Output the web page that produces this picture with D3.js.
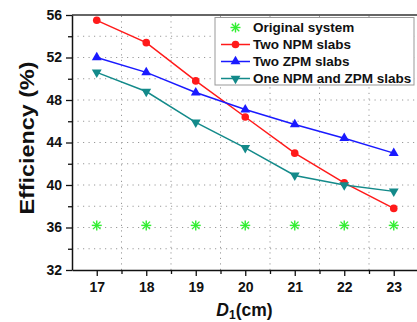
<!DOCTYPE html>
<html><head><meta charset="utf-8">
<script src="https://cdn.jsdelivr.net/npm/d3@7"></script>
<style>body{margin:0;background:#fff;overflow:hidden}svg{display:block}text{font-family:Arial,"Liberation Sans",sans-serif;font-weight:bold}</style>
</head><body>
<script>
const xValues = [17, 18, 19, 20, 21, 22, 23];
const original = [36.2, 36.2, 36.2, 36.2, 36.2, 36.2, 36.2];
const twoNPM = [55.5, 53.4, 49.8, 46.4, 43.0, 40.2, 37.8];
const twoZPM = [52.0, 50.6, 48.7, 47.1, 45.7, 44.4, 43.0];
const oneNPMZPM = [50.6, 48.8, 45.9, 43.5, 40.9, 40.0, 39.4];
const yTicks = [32, 36, 40, 44, 48, 52, 56];
const seriesNames = ["Original system", "Two NPM slabs", "Two ZPM slabs", "One NPM and ZPM slabs"];

const W = 417, H = 322;
const svg = d3.select("body").append("svg").attr("width", W).attr("height", H);
const x = d3.scaleLinear().domain([16.5, 23.5]).range([72, 418.5]);
const y = d3.scaleLinear().domain([32, 56]).range([270, 15]);

// grid
const g = svg.append("g");
d3.range(17.5, 23, 1).forEach(v => g.append("line").attr("x1", x(v)).attr("x2", x(v)).attr("y1", y(32)).attr("y2", y(56))
  .attr("stroke", "#999").attr("stroke-width", 1).attr("stroke-dasharray", "1.2,4.3"));
d3.range(34, 56, 2).forEach(v => g.append("line").attr("x1", x(16.5)).attr("x2", x(23.5)).attr("y1", y(v)).attr("y2", y(v))
  .attr("stroke", "#999").attr("stroke-width", 1).attr("stroke-dasharray", "1.2,4.3"));

// top frame
svg.append("line").attr("x1", 72).attr("x2", 418.5).attr("y1", y(56)).attr("y2", y(56)).attr("stroke", "#333").attr("stroke-width", 1.5);

// axes
const fontFam = "Arial, 'Liberation Sans', sans-serif";
const yAxis = d3.axisLeft(y).tickValues(yTicks).tickSize(6).tickSizeOuter(0).tickPadding(4);
const ya = svg.append("g").attr("transform", "translate(72,0)").call(yAxis);
const yMinor = d3.axisLeft(y).tickValues(d3.range(34, 56, 4)).tickSize(4).tickFormat("");
svg.append("g").attr("transform", "translate(72,0)").call(yMinor).select(".domain").remove();
const xAxis = d3.axisBottom(x).tickValues(xValues).tickSize(6).tickSizeOuter(0).tickPadding(6).tickFormat(d3.format("d"));
const xa = svg.append("g").attr("transform", "translate(0,270)").call(xAxis);
const xMinor = d3.axisBottom(x).tickValues(d3.range(17.5, 23.5, 1)).tickSize(4).tickFormat("");
svg.append("g").attr("transform", "translate(0,270)").call(xMinor).select(".domain").remove();
svg.selectAll(".domain").attr("stroke", "#111").attr("stroke-width", 1.5);
svg.selectAll(".tick line").attr("stroke", "#111").attr("stroke-width", 1.3);
ya.selectAll("text").attr("font-size", 14).attr("font-weight", "bold").attr("font-family", fontFam).attr("fill", "#111");
xa.selectAll("text").attr("font-size", 14).attr("font-weight", "bold").attr("font-family", fontFam).attr("fill", "#111");

// axis titles
svg.append("text").attr("transform", "translate(33.5,138) rotate(-90)").attr("text-anchor", "middle")
  .attr("font-size", 21).attr("fill", "#111").attr("textLength", 153).attr("lengthAdjust", "spacingAndGlyphs").text("Efficiency (%)");
const xt = svg.append("text").attr("x", 244.5).attr("y", 315.5).attr("text-anchor", "middle").attr("font-size", 17.5).attr("fill", "#111");
xt.append("tspan").attr("font-style", "italic").text("D");
xt.append("tspan").attr("font-size", 12).attr("dy", 3).text("1");
xt.append("tspan").attr("dy", -3).text("(cm)");

const colors = ["#33ee33", "#ff1a1a", "#1a1aff", "#138a8a"];
const line = d3.line().x((d, i) => x(xValues[i])).y(d => y(d));
const data = [original, twoNPM, twoZPM, oneNPMZPM];

function marker(sel, k, cx, cy) {
  if (k === 0) {
    const s = 5;
    const p = sel.append("g").attr("transform", `translate(${cx},${cy})`).attr("stroke", colors[0]).attr("stroke-width", 1.4);
    p.append("line").attr("x1", -s).attr("x2", s).attr("y1", 0).attr("y2", 0);
    p.append("line").attr("x1", 0).attr("x2", 0).attr("y1", -s).attr("y2", s);
    p.append("line").attr("x1", -s * 0.75).attr("x2", s * 0.75).attr("y1", -s * 0.75).attr("y2", s * 0.75);
    p.append("line").attr("x1", -s * 0.75).attr("x2", s * 0.75).attr("y1", s * 0.75).attr("y2", -s * 0.75);
  } else if (k === 1) {
    sel.append("circle").attr("cx", cx).attr("cy", cy).attr("r", 3.8).attr("fill", colors[1]);
  } else if (k === 2) {
    sel.append("path").attr("d", d3.symbol(d3.symbolTriangle, 42)()).attr("transform", `translate(${cx},${cy})`).attr("fill", colors[2]);
  } else {
    sel.append("path").attr("d", d3.symbol(d3.symbolTriangle, 42)()).attr("transform", `translate(${cx},${cy}) rotate(180)`).attr("fill", colors[3]);
  }
}

data.forEach((vals, k) => {
  if (k > 0) svg.append("path").datum(vals).attr("d", line).attr("fill", "none").attr("stroke", colors[k]).attr("stroke-width", 1.5);
});
data.forEach((vals, k) => {
  vals.forEach((v, i) => marker(svg, k, x(xValues[i]), y(v)));
});

// legend
const lg = svg.append("g");
lg.append("rect").attr("x", 215).attr("y", 17.5).attr("width", 199).attr("height", 67.5).attr("fill", "#fff").attr("stroke", "#999").attr("stroke-width", 1);
seriesNames.forEach((name, k) => {
  const cy = 27.5 + k * 17;
  if (k > 0) lg.append("line").attr("x1", 221).attr("x2", 250).attr("y1", cy).attr("y2", cy).attr("stroke", colors[k]).attr("stroke-width", 1.5);
  marker(lg, k, 235.5, cy);
  lg.append("text").attr("x", 253).attr("y", cy + 4.8).attr("font-size", 13.5).attr("fill", "#111").text(name);
});
</script>
</body></html>
